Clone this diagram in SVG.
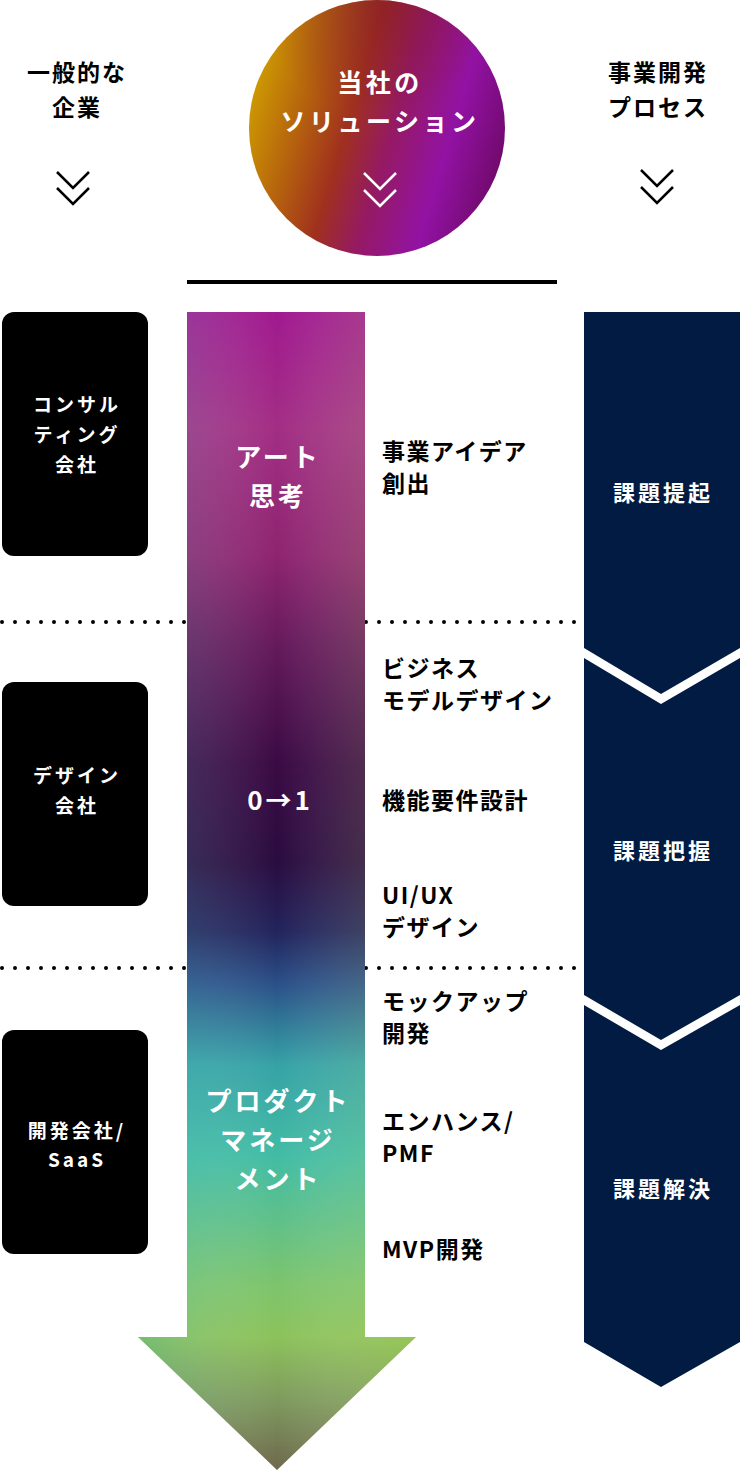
<svg xmlns="http://www.w3.org/2000/svg" width="740" height="1472" viewBox="0 0 740 1472">
<defs>
<linearGradient id="circG" x1="0" y1="0.25" x2="1" y2="0.55">
<stop offset="0" stop-color="#d2a400"/>
<stop offset="0.22" stop-color="#b8680c"/>
<stop offset="0.42" stop-color="#a0301e"/>
<stop offset="0.58" stop-color="#951a62"/>
<stop offset="0.8" stop-color="#9212a4"/>
<stop offset="1" stop-color="#740a70"/>
</linearGradient>
<radialGradient id="circTop" cx="0.5" cy="0" r="0.45">
<stop offset="0" stop-color="#7a1030" stop-opacity="0.45"/>
<stop offset="1" stop-color="#7a1030" stop-opacity="0"/>
</radialGradient>
<linearGradient id="shaftG" gradientUnits="userSpaceOnUse" x1="0" y1="312" x2="0" y2="1470">
<stop offset="0" stop-color="#a0198f"/>
<stop offset="0.1" stop-color="#a22e84"/>
<stop offset="0.21" stop-color="#8e2470"/>
<stop offset="0.285" stop-color="#661a5c"/>
<stop offset="0.39" stop-color="#3a0a44"/>
<stop offset="0.475" stop-color="#2a0c40"/>
<stop offset="0.535" stop-color="#22245c"/>
<stop offset="0.58" stop-color="#2a5088"/>
<stop offset="0.65" stop-color="#35a2a6"/>
<stop offset="0.73" stop-color="#42bca4"/>
<stop offset="0.84" stop-color="#7cc46c"/>
<stop offset="0.885" stop-color="#8cc25a"/>
<stop offset="0.94" stop-color="#7e9a5e"/>
<stop offset="1" stop-color="#6e684c"/>
</linearGradient>
<linearGradient id="tintG" gradientUnits="userSpaceOnUse" x1="138" y1="0" x2="416" y2="0">
<stop offset="0" stop-color="#2ab0b0" stop-opacity="0.25"/>
<stop offset="0.5" stop-color="#ffffff" stop-opacity="0"/>
<stop offset="1" stop-color="#b0d040" stop-opacity="0.25"/>
</linearGradient>
</defs>
<style>
.t{font-family:"Noto Sans CJK JP","Noto Sans",sans-serif;font-weight:700;}
.hd{font-size:23px;fill:#000;text-anchor:middle;letter-spacing:2px;}
.hw{font-size:25px;fill:#fff;text-anchor:middle;letter-spacing:3.5px;}
.bx{font-size:19px;fill:#fff;text-anchor:middle;letter-spacing:3px;}
.ar{font-size:26px;fill:#fff;text-anchor:middle;letter-spacing:3px;}
.it{font-size:23px;fill:#000;letter-spacing:1.5px;}
.rc{font-size:22px;fill:#fff;text-anchor:middle;letter-spacing:3px;}
.box{fill:#000;}
.nav{fill:#011b42;}
.dot{stroke:#000;stroke-width:4;stroke-linecap:round;stroke-dasharray:0 13;fill:none;}
.chk{fill:none;stroke:#000;stroke-width:2.5;}
.chw{fill:none;stroke:#fff;stroke-width:2.5;}
</style>

<g id="connectors">
<line class="dot" x1="2" y1="622" x2="612" y2="622"/>
<line class="dot" x1="2" y1="968" x2="612" y2="968"/>
<line x1="187" y1="282" x2="557" y2="282" stroke="#000" stroke-width="4"/>
</g>

<g id="header-left">
<text class="t hd" x="77" y="81">一般的な</text>
<text class="t hd" x="77" y="116">企業</text>
<path class="chk" d="M57,172 L73,188 L89,172 M57,188 L73,204 L89,188"/>
</g>

<g id="header-center">
<circle cx="377" cy="128" r="128" fill="url(#circG)"/>
<circle cx="377" cy="128" r="128" fill="url(#circTop)"/>
<text class="t hw" x="380" y="92">当社の</text>
<text class="t hw" x="380" y="131">ソリューション</text>
<path class="chw" d="M364,173 L380,189 L396,173 M364,190 L380,206 L396,190"/>
</g>

<g id="header-right">
<text class="t hd" x="658" y="81">事業開発</text>
<text class="t hd" x="658" y="116">プロセス</text>
<path class="chk" d="M641,170 L657,186 L673,170 M641,187 L657,203 L673,187"/>
</g>

<g id="arrow">
<path d="M187,312 H365 V1337 H416 L277,1470 L138,1337 H187 Z" fill="url(#shaftG)"/>
<path d="M187,312 H365 V1337 H416 L277,1470 L138,1337 H187 Z" fill="url(#tintG)"/>
<text class="t ar" x="278" y="467">アート</text>
<text class="t ar" x="278" y="506">思考</text>
<text class="t ar" x="280" y="810">0→1</text>
<text class="t ar" x="278" y="1111">プロダクト</text>
<text class="t ar" x="278" y="1150">マネージ</text>
<text class="t ar" x="278" y="1189">メント</text>
</g>

<g id="box-consulting">
<rect class="box" x="2" y="312" width="146" height="244" rx="12"/>
<text class="t bx" x="77" y="412">コンサル</text>
<text class="t bx" x="77" y="442">ティング</text>
<text class="t bx" x="77" y="472">会社</text>
</g>
<g id="box-design">
<rect class="box" x="2" y="682" width="146" height="224" rx="12"/>
<text class="t bx" x="77" y="783">デザイン</text>
<text class="t bx" x="77" y="813">会社</text>
</g>
<g id="box-dev">
<rect class="box" x="2" y="1030" width="146" height="224" rx="12"/>
<text class="t bx" x="77" y="1138">開発会社/</text>
<text class="t bx" x="77" y="1167">SaaS</text>
</g>

<g id="items">
<text class="t it" x="382" y="460">事業アイデア</text>
<text class="t it" x="382" y="492">創出</text>
<text class="t it" x="382" y="677">ビジネス</text>
<text class="t it" x="382" y="709">モデルデザイン</text>
<text class="t it" x="382" y="809">機能要件設計</text>
<text class="t it" x="382" y="904">UI/UX</text>
<text class="t it" x="382" y="936">デザイン</text>
<text class="t it" x="382" y="1010">モックアップ</text>
<text class="t it" x="382" y="1042">開発</text>
<text class="t it" x="382" y="1130">エンハンス/</text>
<text class="t it" x="382" y="1162">PMF</text>
<text class="t it" x="382" y="1258">MVP開発</text>
</g>

<g id="step-1">
<path class="nav" d="M584,312 H740 V648 L661,694 L584,648 Z"/>
<text class="t rc" x="663" y="501">課題提起</text>
</g>
<g id="step-2">
<path class="nav" d="M584,658 L661,704 L740,658 V995 L661,1040 L584,995 Z"/>
<text class="t rc" x="663" y="859">課題把握</text>
</g>
<g id="step-3">
<path class="nav" d="M584,1005 L661,1050 L740,1005 V1342 L661,1387 L584,1342 Z"/>
<text class="t rc" x="663" y="1197">課題解決</text>
</g>
</svg>
